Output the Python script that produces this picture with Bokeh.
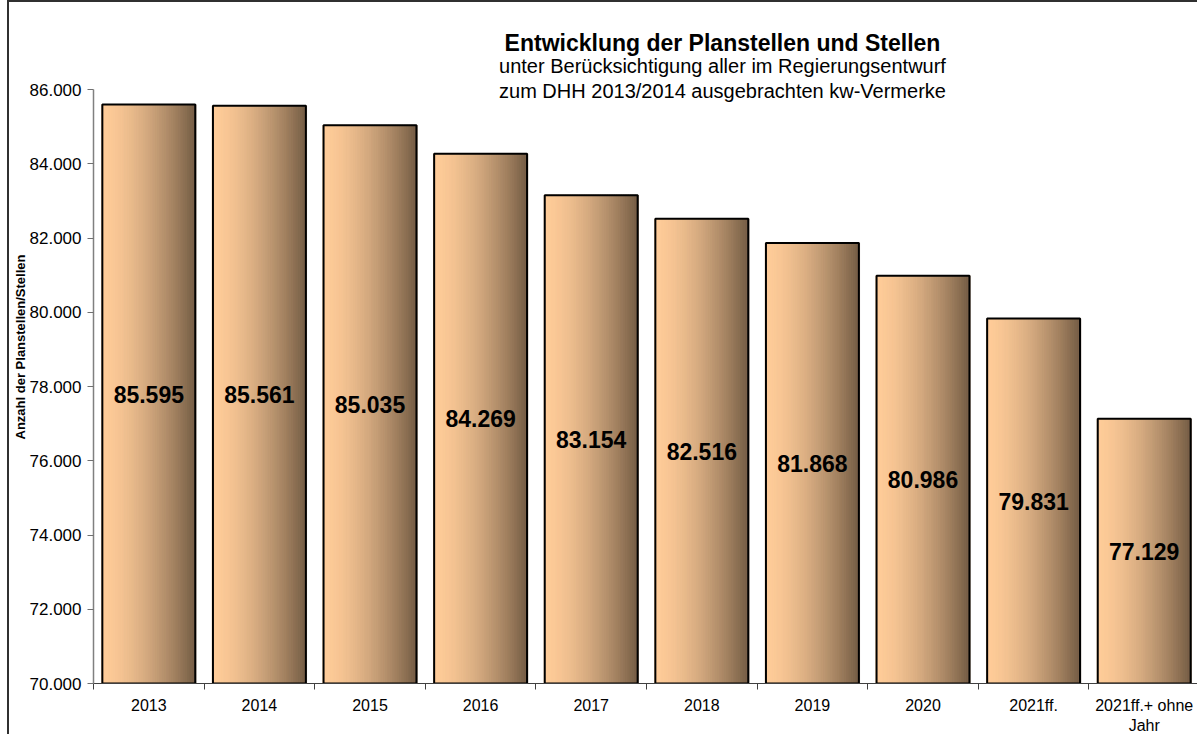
import numpy as np
from bokeh.plotting import figure
from bokeh.models import (ColumnDataSource, FixedTicker, CustomJSTickFormatter, Label)
from bokeh.core.properties import value
from bokeh.embed import file_html
from bokeh.resources import INLINE

# ---- data ----
categories = ["2013", "2014", "2015", "2016", "2017", "2018", "2019", "2020",
              "2021ff.", "2021ff.+ ohne\nJahr"]
stellen = [85595, 85561, 85035, 84269, 83154, 82516, 81868, 80986, 79831, 77129]
y_ticks = [70000, 72000, 74000, 76000, 78000, 80000, 82000, 84000, 86000]
title_main = "Entwicklung der Planstellen und Stellen"
title_sub1 = "unter Berücksichtigung aller im Regierungsentwurf"
title_sub2 = "zum DHH 2013/2014 ausgebrachten kw-Vermerke"
y_label = "Anzahl der Planstellen/Stellen"

FONT = "Liberation Sans"
BASE = 70000
BAR_W = 0.84
N_STRIPS = 40
LEFT_RGB = np.array([255, 204, 153])
RIGHT_RGB = np.array([118, 94, 70])

n = len(categories)
centers = np.arange(n) + 0.5

p = figure(width=1190, height=734, output_backend="svg", toolbar_location=None,
           x_range=(0, n), y_range=(BASE, 88128),
           min_border_left=84, min_border_right=0, min_border_top=8,
           min_border_bottom=53)
p.styles = {"margin-left": "7px", "margin-top": "0px",
            "border-left": "2px solid #303030", "border-top": "2px solid #303030"}
p.outline_line_color = None
p.xgrid.grid_line_color = None
p.ygrid.grid_line_color = None
p.background_fill_color = "white"
p.border_fill_color = "white"

# ---- gradient bars built from strips ----
sw = BAR_W / N_STRIPS
xs, tops, cols = [], [], []
for k in range(N_STRIPS):
    t = (k + 0.5) / N_STRIPS
    f = t ** 1.6
    rgb = (LEFT_RGB + (RIGHT_RGB - LEFT_RGB) * f).round().astype(int)
    col = "#%02x%02x%02x" % tuple(rgb)
    for i in range(n):
        xs.append(centers[i] - BAR_W / 2 + (k + 0.5) * sw)
        tops.append(stellen[i])
        cols.append(col)
strip_src = ColumnDataSource(dict(x=xs, top=tops, color=cols))
p.vbar(x="x", top="top", bottom=BASE, width=sw * 1.6, source=strip_src,
       fill_color="color", line_color="color", line_width=0.6)

bar_src = ColumnDataSource(dict(
    x=centers, top=stellen,
    mid=[(BASE + v) / 2 for v in stellen],
    lab=[f"{v:,}".replace(",", ".") for v in stellen]))
p.vbar(x="x", top="top", bottom=BASE, width=BAR_W, source=bar_src,
       fill_color=None, line_color="black", line_width=2)
p.text(x="x", y="mid", text="lab", source=bar_src, text_align="center",
       text_baseline="middle", text_font=value(FONT), text_font_style="bold",
       text_font_size="23px", text_color="black")

# ---- axes ----
xa = p.xaxis[0]
xa.ticker = FixedTicker(ticks=list(centers), minor_ticks=list(np.arange(n + 1)))
xa.major_label_overrides = {float(c): lab for c, lab in zip(centers, categories)}
xa.major_tick_out = 0
xa.major_tick_in = 0
xa.minor_tick_out = 6
xa.minor_tick_in = 0
xa.minor_tick_line_color = "#404040"
xa.axis_line_color = "#404040"
xa.major_label_standoff = 7
xa.major_label_text_font = FONT
xa.major_label_text_font_size = "16px"
xa.major_label_text_color = "black"

ya = p.yaxis[0]
ya.ticker = FixedTicker(ticks=y_ticks)
ya.bounds = (70000, 86000)
ya.formatter = CustomJSTickFormatter(code="""
    return Math.round(tick).toString().replace(/\\B(?=(\\d{3})+(?!\\d))/g, '.');
""")
ya.minor_tick_line_color = None
ya.major_tick_out = 6
ya.major_tick_in = 0
ya.major_tick_line_color = "#707070"
ya.axis_line_color = "#808080"
ya.axis_line_width = 1.5
ya.major_label_standoff = 6
ya.major_label_text_font = FONT
ya.major_label_text_font_size = "17px"
ya.major_label_text_color = "black"
ya.axis_label = y_label
ya.axis_label_text_font = FONT
ya.axis_label_text_font_style = "bold"
ya.axis_label_text_font_size = "13px"
ya.axis_label_standoff = -1
ya.axis_label_text_color = "black"

# ---- titles ----
TX = 5.687
for txt, yy, size, style in [(title_main, 87266, "23px", "bold"),
                             (title_sub1, 86620, "20px", "normal"),
                             (title_sub2, 85973, "20px", "normal")]:
    p.add_layout(Label(x=TX, y=yy, text=txt, text_align="center",
                       text_baseline="middle", text_font=FONT,
                       text_font_size=size, text_font_style=style,
                       text_color="black"))

open("out.html", "w").write(file_html(p, INLINE))
